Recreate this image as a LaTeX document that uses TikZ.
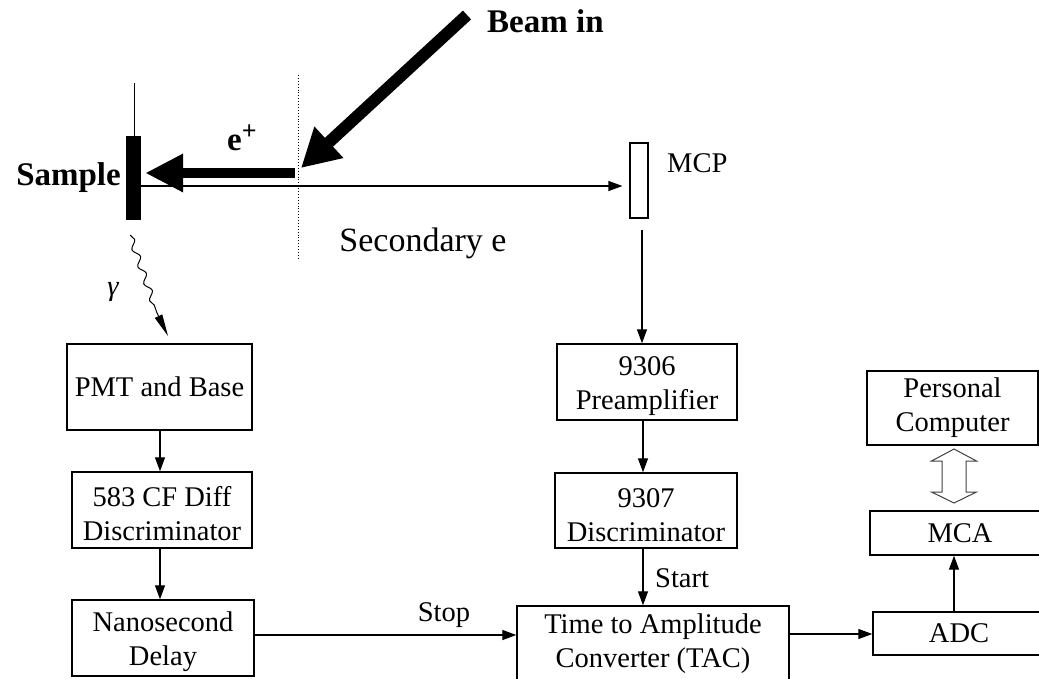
\documentclass[tikz,border=0pt]{standalone}
\usepackage{fontspec}
\setmainfont{Liberation Serif}
\usetikzlibrary{arrows.meta,decorations.pathmorphing,calc}
\begin{document}
\begin{tikzpicture}[x=1pt,y=-1pt,
  box/.style={draw, line width=1.4pt, align=center, inner sep=0pt, font=\fontsize{28.5}{34}\selectfont},
  twoline/.style={text height=62pt},
  arr/.style={line width=1.2pt, -{Triangle[length=14pt,width=10pt]}},
  lbl/.style={font=\fontsize{28.5}{34}\selectfont, inner sep=0pt},
  boldlbl/.style={font=\fontsize{33}{38}\selectfont\bfseries, inner sep=0pt}]
\useasboundingbox (0,0) rectangle (1039,678);

% --- top part ---
\node[fill=black, inner sep=0pt, minimum width=15pt, minimum height=84pt] (sample) at (133.5,178) {};
\coordinate (hang) at (134,83);
\draw[line width=1pt] (hang) -- (hang |- sample.north);
\node[boldlbl, anchor=base east] (sampletxt) at (121,185) {Sample};

\node[draw, line width=1.2pt, inner sep=0pt, minimum width=18pt, minimum height=75pt] (mcp) at (639,180.5) {};
\node[lbl, anchor=west] (mcptxt) at (667,163) {MCP};

\coordinate (dot0) at (298,75);
\coordinate (dot1) at (298,258);
\draw[dotted, line width=0.9pt] (dot0) -- (dot1);

\coordinate (s1) at (141,186);
\draw[arr, shorten >=7pt] (s1) -- (s1 -| mcp.west);

\coordinate (eplus0) at (295,173);
\draw[line width=10pt, -{Triangle[length=38pt,width=36pt]}, shorten >=4pt] (eplus0) -- (eplus0 -| sample.east);
\node[boldlbl, anchor=base west] (eplustxt) at (227,150) {e\raisebox{11pt}{\fontsize{26}{30}\selectfont\bfseries +}};

\coordinate (beam0) at (467,15);
\coordinate (beam1) at (301,168);
\draw[line width=12pt, -{Triangle[length=38pt,width=40pt]}] (beam0) -- (beam1);
\node[boldlbl, anchor=base west] (beamtxt) at (487,32) {Beam in};

\node[font=\fontsize{34}{40}\selectfont, inner sep=0pt] (sec) at (423,243) {Secondary e};

% gamma
\coordinate (g0) at (130,235);
\coordinate (g1) at (157,313);
\coordinate (g2) at (168,336);
\draw[line width=1pt, decorate, decoration={snake, amplitude=3pt, segment length=18pt}] (g0) -- (g1);
\draw[line width=1pt, -{Triangle[length=22pt,width=8pt]}] (g1) -- (g2);
\node[lbl, font=\fontsize{28.5}{34}\selectfont\itshape] (gam) at (113,292) {γ};

% --- left column ---
\node[box, minimum width=185pt, minimum height=86pt] (pmt) at (159.5,387) {PMT and Base};
\node[box, twoline, minimum width=180pt, minimum height=76pt] (cfd) at (162,510) {583 CF Diff\\Discriminator};
\node[box, twoline, minimum width=182pt, minimum height=76pt] (delay) at (163,638) {Nanosecond\\Delay};
\draw[arr] (pmt.south -| 160,0) -- (cfd.north -| 160,0);
\draw[arr] (cfd.south -| 160,0) -- (delay.north -| 160,0);

% --- middle column ---
\node[box, twoline, minimum width=180pt, minimum height=76pt] (pre) at (647,382) {9306\\Preamplifier};
\node[box, twoline, minimum width=182pt, minimum height=75pt] (disc) at (646,510.5) {9307\\Discriminator};
\node[box, minimum width=272pt, minimum height=75pt] (tac) at (653,643.5) {Time to Amplitude\\Converter (TAC)};
\coordinate (m0) at (642,230);
\draw[arr] (m0) -- (m0 |- pre.north);
\draw[arr] (pre.south -| 643,0) -- (disc.north -| 643,0);
\draw[arr] (disc.south -| 643,0) -- (tac.north -| 643,0);
\node[lbl, anchor=west] (start) at (655,578) {Start};

\coordinate (stop0) at (254,635);
\draw[arr] (stop0) -- (stop0 -| tac.west);
\node[lbl] (stop) at (444,615) {Stop};

% --- right column ---
\node[box, minimum width=171pt, minimum height=74pt] (pc) at (952.5,408) {Personal\\Computer};
\node[box, minimum width=180pt, minimum height=44pt] (mca) at (960,533) {MCA};
\node[box, minimum width=172pt, minimum height=43pt] (adc) at (959,633.5) {ADC};
\coordinate (t0) at (789,634);
\draw[arr] (t0) -- (t0 -| adc.west);
\draw[arr] (adc.north -| 954,0) -- (mca.south -| 954,0);

\coordinate (dbl) at (954,476);
\draw[line width=1pt, draw=black!75]
  ($(dbl)+(0,-27)$) -- ++(22.5,12) -- ++(-10.5,0) -- ++(0,31) -- ++(10.5,0)
  -- ($(dbl)+(0,27)$) -- ++(-22.5,-11) -- ++(10.5,0) -- ++(0,-31) -- ++(-10.5,0) -- cycle;
\end{tikzpicture}
\end{document}
